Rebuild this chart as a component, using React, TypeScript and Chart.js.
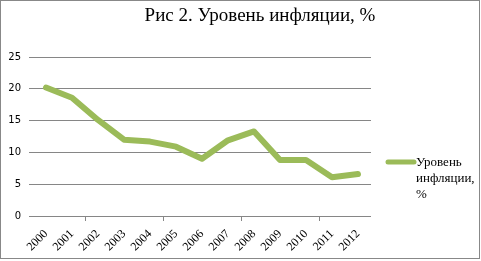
import React, { useEffect, useRef } from "react";
import { Chart, registerables } from "chart.js";

Chart.register(...registerables);

const years = ["2000","2001","2002","2003","2004","2005","2006","2007","2008","2009","2010","2011","2012"];
const inflation = [20.2, 18.6, 15.1, 12.0, 11.7, 10.9, 9.0, 11.9, 13.3, 8.8, 8.8, 6.1, 6.6];
const seriesName = "Уровень инфляции, %";
const legendLines = ["Уровень", "инфляции,", "%"];
const titleText = "Рис 2. Уровень инфляции, %";
const lineColor = "#9bbb59";

export default function App() {
  const ref = useRef<HTMLCanvasElement>(null);
  useEffect(() => {
    document.body.style.margin = "0";
    const overlay = {
      id: "overlay",
      afterDraw(chart: any) {
        const ctx = chart.ctx;
        ctx.save();
        ctx.fillStyle = "#000";
        ctx.font = "19px 'Liberation Serif', 'Times New Roman', serif";
        ctx.textAlign = "center";
        ctx.textBaseline = "middle";
        ctx.fillText(titleText, 260, 16);
        // legend
        ctx.strokeStyle = lineColor;
        ctx.lineWidth = 5;
        ctx.lineCap = "round";
        ctx.beginPath();
        ctx.moveTo(388, 162);
        ctx.lineTo(414, 162);
        ctx.stroke();
        ctx.font = "13px 'Liberation Serif', 'Times New Roman', serif";
        ctx.textAlign = "left";
        legendLines.forEach((t, i) => ctx.fillText(t, 416, 163 + i * 16));
        ctx.restore();
      },
    };
    const chart = new Chart(ref.current!, {
      type: "line",
      data: {
        labels: years,
        datasets: [
          {
            label: seriesName,
            data: inflation,
            borderColor: lineColor,
            backgroundColor: lineColor,
            borderWidth: 6,
            pointRadius: 0,
            borderJoinStyle: "round",
            borderCapStyle: "round",
            tension: 0,
          },
        ],
      },
      options: {
        animation: false,
        responsive: false,
        layout: { padding: { left: 0, top: 57, right: 481 - 371, bottom: 0 } },
        plugins: { legend: { display: false }, title: { display: false }, tooltip: { enabled: false } },
        scales: {
          x: {
            offset: true,
            afterFit: (s: any) => { s.height = 261 - 216; },
            grid: {
              offset: true,
              drawOnChartArea: false,
              drawTicks: true,
              tickLength: 5,
              color: (c: any) => ([2, 5, 8, 11].includes(c.index) ? "#868686" : "rgba(0,0,0,0)"),
            },
            border: { display: false },
            ticks: {
              maxRotation: 45,
              minRotation: 45,
              autoSkip: false,
              color: "#000",
              padding: 6,
              font: { family: "'Liberation Serif', 'Times New Roman', serif", size: 12 },
            },
          },
          y: {
            min: 0,
            max: 25,
            afterFit: (s: any) => { s.width = 33; },
            ticks: {
              stepSize: 5,
              color: "#000",
              padding: 8,
              font: { family: "'DejaVu Sans', sans-serif", size: 10 },
            },
            grid: { color: "#868686", tickLength: 4, drawTicks: true },
            border: { display: false },
          },
        },
      },
      plugins: [overlay],
    });
    return () => chart.destroy();
  }, []);
  return (
    <div style={{ position: "absolute", left: 0, top: 0, width: 481, height: 261 }}>
      <canvas ref={ref} width={481} height={261} style={{ display: "block" }} />
      <div
        style={{
          position: "absolute",
          left: 0,
          top: 0,
          width: 480,
          height: 259,
          border: "1px solid #888",
          boxSizing: "border-box",
          pointerEvents: "none",
        }}
      />
    </div>
  );
}
